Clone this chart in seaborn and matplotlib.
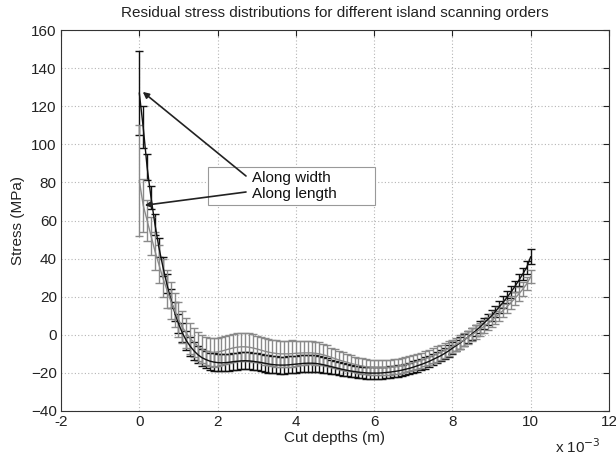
import numpy as np
import pandas as pd
import matplotlib
matplotlib.use("Agg")
import matplotlib.pyplot as plt
from matplotlib.patches import Rectangle
from matplotlib.ticker import FuncFormatter
import seaborn as sns

# ---------------- data ----------------
depth_mm = np.round(np.arange(0, 101) * 0.1, 1)   # cut depth positions, mm

width_mean = [
    127, 109, 88, 72, 58, 46, 36, 27, 19, 12,
    6, 1, -3, -6, -8.5, -10.5, -12, -13, -13.8, -14.3,
    -14.6, -14.7, -14.6, -14.4, -14.1, -13.9, -13.7, -13.6, -13.7, -13.9,
    -14.2, -14.5, -14.9, -15.3, -15.6, -15.8, -15.9, -15.9, -15.8, -15.6,
    -15.4, -15.2, -15.0, -14.9, -14.9, -15.0, -15.3, -15.7, -16.2, -16.7,
    -17.2, -17.7, -18.2, -18.6, -19.0, -19.3, -19.6, -19.8, -20.0, -20.1,
    -20.1, -20.1, -20.0, -19.8, -19.6, -19.3, -19.0, -18.6, -18.1, -17.6,
    -17.0, -16.3, -15.6, -14.8, -14.0, -13.0, -12.0, -11.0, -9.8, -8.5,
    -7.0, -5.6, -4.2, -2.7, -1.2, 0.5, 2.2, 4.0, 6.0, 8.0,
    10.0, 12.3, 14.7, 17.2, 19.8, 22.5, 25.5, 28.7, 32.0, 35.5,
    41.0]
width_err = [
    22, 11, 7, 6, 5.5, 5, 5, 5, 5, 5,
    5, 5, 5, 5, 4.5, 4.5, 4.5, 4.5, 4.5, 4.5,
    4.5, 4.5, 4.5, 4.5, 4.5, 4.5, 4.5, 4.5, 4.5, 4.5,
    4.5, 4.5, 4.5, 4.5, 4.5, 4.5, 4.5, 4.5, 4.5, 4.5,
    4.5, 4.5, 4.5, 4.5, 4.5, 4.5, 4.3, 4.1, 3.9, 3.7,
    3.5, 3.4, 3.3, 3.2, 3.1, 3, 3, 3, 3, 3,
    3, 3, 3, 3, 3, 3, 3, 3, 3, 3,
    3, 3, 3, 3, 3, 3, 3, 3, 3, 3,
    3, 3, 3, 3, 3, 3, 3, 3, 3, 3,
    3, 3, 3, 3, 3, 3, 3, 3, 3.2, 3.4,
    3.8]
length_mean = [
    81, 68, 60, 52, 44, 37, 30, 24, 18, 13,
    8, 4, 1, -2, -4, -6.0, -7.5, -8.5, -9.0, -9.2,
    -9.0, -8.6, -8.0, -7.4, -6.9, -6.5, -6.3, -6.3, -6.5, -6.9,
    -7.4, -8.0, -8.6, -9.1, -9.5, -9.8, -10.0, -10.0, -10.0, -9.9,
    -9.7, -9.6, -9.5, -9.5, -9.5, -9.7, -10.0, -10.5, -11.1, -11.8,
    -12.5, -13.2, -13.8, -14.4, -15.0, -15.5, -16.0, -16.4, -16.8, -17.0,
    -17.2, -17.3, -17.3, -17.2, -17.0, -16.8, -16.5, -16.1, -15.7, -15.2,
    -14.6, -14.0, -13.3, -12.6, -11.8, -11.0, -10.1, -9.2, -8.2, -7.2,
    -6.1, -5.0, -3.8, -2.6, -1.3, 0.0, 1.4, 2.8, 4.3, 5.9,
    7.5, 9.2, 11.0, 12.9, 14.9, 17.0, 19.2, 21.5, 24.0, 26.8,
    30.5]
length_err = [
    29, 14, 11, 10, 10, 10, 10, 10, 9.5, 9,
    9, 8.5, 8, 8, 7.5, 7.5, 7.5, 7.5, 7.5, 7.5,
    7.5, 7.5, 7.5, 7.5, 7.5, 7.5, 7.5, 7.5, 7.5, 7.5,
    7, 7, 7, 7, 7, 7, 7, 7, 7, 7,
    6.5, 6.5, 6.5, 6, 6, 6, 6, 5.5, 5.5, 5,
    5, 4.8, 4.6, 4.4, 4.2, 4, 4, 4, 4, 4,
    4, 4, 4, 4, 4, 4, 4, 4, 4, 4,
    4, 4, 4, 4, 4, 4, 4, 4, 4, 4,
    3.5, 3.5, 3.5, 3.5, 3.5, 3.5, 3.5, 3.5, 3.5, 3.5,
    3.5, 3.5, 3.5, 3.5, 3.5, 3.5, 3.5, 3.5, 3.5, 3.5,
    3.5]

series_names = ["Along width", "Along length"]
x_ticks_mm = [-2, 0, 2, 4, 6, 8, 10, 12]
y_ticks = [-40, -20, 0, 20, 40, 60, 80, 100, 120, 140, 160]

# ---------------- styling ----------------
sns.set_theme(style="white")
plt.rcParams["font.family"] = ["Liberation Sans", "DejaVu Sans"]
plt.rcParams["font.size"] = 11

depth_m = depth_mm * 1e-3
df = pd.DataFrame({
    "depth": np.concatenate([depth_m, depth_m]),
    "stress": np.concatenate([width_mean, length_mean]),
    "err": np.concatenate([width_err, length_err]),
    "series": [series_names[0]] * len(depth_m) + [series_names[1]] * len(depth_m),
})
colors = {series_names[0]: "#111111", series_names[1]: "#8a8a8a"}

fig = plt.figure(figsize=(6.16, 4.55), dpi=100)
L, R, T, B = 61, 609, 30, 411
ax = fig.add_axes([L / 616, 1 - B / 455, (R - L) / 616, (B - T) / 455])

# error bars (black first, grey on top, lines on top of everything)
for name, z in [(series_names[0], 2), (series_names[1], 3)]:
    d = df[df.series == name]
    ax.errorbar(d["depth"], d["stress"], yerr=d["err"], fmt="none",
                ecolor=colors[name], elinewidth=1.0, capsize=3, capthick=1.0,
                zorder=z)
sns.lineplot(data=df, x="depth", y="stress", hue="series", palette=colors,
             linewidth=1.0, legend=False, ax=ax, zorder=4, sort=False)

ax.set_xlim(-0.002, 0.012)
ax.set_ylim(-40, 160)
ax.set_xticks([v * 1e-3 for v in x_ticks_mm])
ax.xaxis.set_major_formatter(FuncFormatter(lambda v, p: f"{v * 1e3:.0f}"))
ax.set_yticks(y_ticks)
ax.grid(True, linestyle=(0, (1, 2)), color="#b5b5b5", linewidth=0.8)
ax.tick_params(direction="in", top=True, right=True, length=4, width=0.8,
               colors="#222222", labelsize=11, pad=3)
for s in ax.spines.values():
    s.set_color("#333333")
    s.set_linewidth(0.8)

ax.set_title("Residual stress distributions for different island scanning orders",
             fontsize=11, color="#222222", pad=9)
ax.set_xlabel("Cut depths (m)", fontsize=11, color="#222222", labelpad=1)
ax.set_ylabel("Stress (MPa)", fontsize=11, color="#222222", labelpad=4)
fig.text(578 / 616, 1 - 447 / 455, r"x 10$^{-3}$", fontsize=11, color="#222222",
         ha="center", va="center")

# legend box with annotation arrows
def ax_frac(px, py):
    return (px - L) / (R - L), (B - py) / (B - T)

x0, y0 = ax_frac(208, 205)
x1, y1 = ax_frac(375, 167)
ax.add_patch(Rectangle((x0, y0), x1 - x0, y1 - y0, transform=ax.transAxes,
                       facecolor="white", edgecolor="#999999", linewidth=0.8,
                       zorder=6))
tx, ty1 = ax_frac(252, 178)
_, ty2 = ax_frac(252, 194)
ax.text(tx, ty1, series_names[0], transform=ax.transAxes, fontsize=11,
        va="center", ha="left", color="#111111", zorder=7)
ax.text(tx, ty2, series_names[1], transform=ax.transAxes, fontsize=11,
        va="center", ha="left", color="#111111", zorder=7)

arrow_props = dict(arrowstyle="-|>", color="#222222", lw=1.2, mutation_scale=9,
                   shrinkA=0, shrinkB=0)
ax.annotate("", xy=(0.09e-3, 127.5), xycoords="data",
            xytext=ax_frac(246, 176), textcoords="axes fraction",
            arrowprops=arrow_props, zorder=8)
ax.annotate("", xy=(0.14e-3, 68), xycoords="data",
            xytext=ax_frac(246, 192), textcoords="axes fraction",
            arrowprops=arrow_props, zorder=8)

fig.savefig("out.png", dpi=100)
